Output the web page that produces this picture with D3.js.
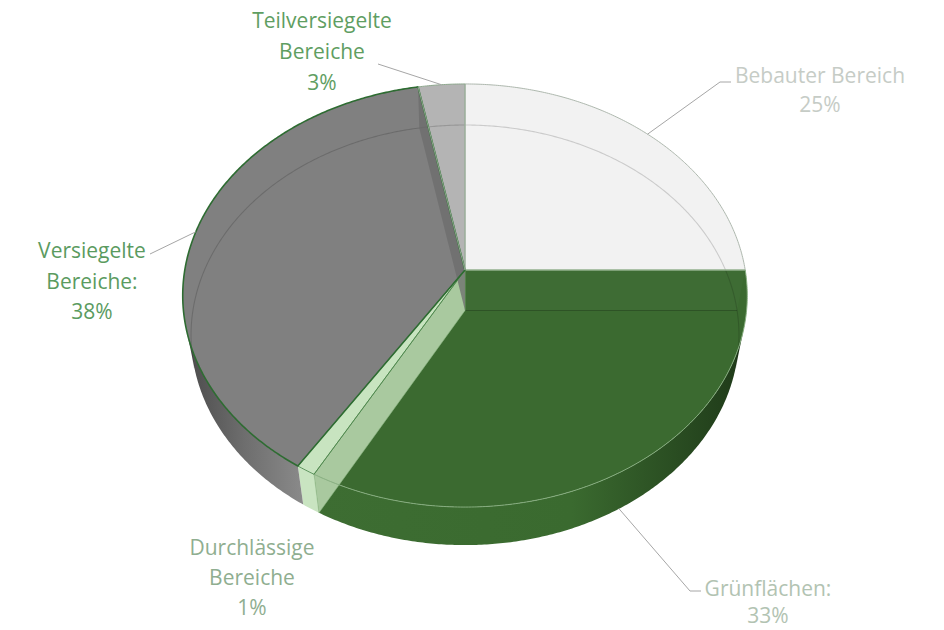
<!DOCTYPE html>
<html><head><meta charset="utf-8">
<script src="https://cdn.jsdelivr.net/npm/d3@7"></script>
<style>html,body{margin:0;padding:0;background:#fff;} svg{display:block;}</style>
</head><body>
<svg id="chart" width="944" height="630"></svg>
<script>
// ---- data ----
const categories = ["Bebauter Bereich", "Grünflächen", "Durchlässige Bereiche", "Versiegelte Bereiche", "Teilversiegelte Bereiche"];
const values = [25, 33, 1, 38, 3];
const labelLines = [["Bebauter Bereich"], ["Grünflächen:"], ["Durchlässige", "Bereiche"], ["Versiegelte", "Bereiche:"], ["Teilversiegelte", "Bereiche"]];

// ---- styles ----
const topColors = ["#f2f2f2", "#3b6a30", "#c8e4c0", "#808080", "#b4b4b4"];
const topStroke = ["#aeb8ae", "#86ad7f", "#3f7d40", "#2e6c32", "#8ea88e"];
const topStrokeW = [1, 1, 0.8, 1.6, 1];
const sideStops = [
  [["#e0e0e0", 0], ["#e0e0e0", 1]],
  [["#3d6d32", 0], ["#3a6a2f", 0.6], ["#1f3a19", 1]],
  [["#c9e4c1", 0], ["#c9e4c1", 1]],
  [["#4b4b4b", 0], ["#6e6e6e", 0.5], ["#8a8a8a", 1]],
  [["#a0a0a0", 0], ["#a0a0a0", 1]]
];
const labelColors = ["#c6ccc6", "#b2c3b2", "#8fae90", "#5b9b5f", "#5f9e62"];
const labelLayout = [
  {x: 820, y: 75, dy: 29, leader: [[720, 82], [731, 82]]},
  {x: 768, y: 588, dy: 27, leader: [[690, 591], [701, 591]]},
  {x: 252, y: 547, dy: 30, leader: null},
  {x: 92, y: 250, dy: 30.5, leader: [[150, 254]]},
  {x: 322, y: 20, dy: 31, leader: [[378, 64]]}
];

// ---- projection (perspective 3D) ----
const cam = {s: 0.744, c: 0.668, D: 5.54, F: 1552, cx: 465, cy: 270, h: 0.2226};
function proj(theta, r, y) {
  const x = r * Math.sin(theta), z = -r * Math.cos(theta);
  const vx = x, vy = y - cam.D * cam.s, vz = z - cam.D * cam.c;
  const depth = -vy * cam.s - vz * cam.c;
  const sy = vy * cam.c - vz * cam.s;
  return [cam.cx + cam.F * vx / depth, cam.cy - cam.F * sy / depth];
}
function arcPts(a0, a1, r, y) {
  const n = Math.max(2, Math.ceil(Math.abs(a1 - a0) / (Math.PI / 360)));
  const pts = [];
  for (let i = 0; i <= n; i++) pts.push(proj(a0 + (a1 - a0) * i / n, r, y));
  return pts;
}
const closed = d3.line().curve(d3.curveLinearClosed);
const open = d3.line();

const svg = d3.select("#chart");
const defs = svg.append("defs");
const arcs = d3.pie().sort(null).value(d => d)(values);
const H = -cam.h;
const visLim = Math.acos(-1 / (cam.D * cam.c));
const visA = visLim, visB = 2 * Math.PI - visLim;

// sides
const gSide = svg.append("g");
arcs.forEach((a, i) => {
  const b0 = Math.max(a.startAngle, visA), b1 = Math.min(a.endAngle, visB);
  if (b1 <= b0) return;
  const top = arcPts(b0, b1, 1, 0), bot = arcPts(b1, b0, 1, H);
  const xs = top.concat(bot).map(p => p[0]);
  const gid = "side" + i;
  const lg = defs.append("linearGradient").attr("id", gid).attr("gradientUnits", "userSpaceOnUse")
    .attr("x1", d3.min(xs)).attr("x2", d3.max(xs)).attr("y1", 0).attr("y2", 0);
  sideStops[i].forEach(s => lg.append("stop").attr("offset", s[1]).attr("stop-color", s[0]));
  gSide.append("path").attr("d", closed(top.concat(bot))).attr("fill", `url(#${gid})`);
});

// tops
const gTop = svg.append("g");
function topPts(a) { return [proj(0, 0, 0)].concat(arcPts(a.startAngle, a.endAngle, 1, 0)); }
arcs.forEach((a, i) => {
  gTop.append("path").attr("d", closed(topPts(a))).attr("fill", topColors[i]);
});

// see-through details (translucent look)
const gSee = svg.append("g");
gSee.append("path").attr("d", open(arcPts(visB, 2 * Math.PI + visA, 1, H)))
  .attr("fill", "none").attr("stroke", "rgba(0,0,0,0.16)").attr("stroke-width", 1.1);
function wallPts(t) { return [proj(t, 0, 0), proj(t, 1, 0), proj(t, 1, H), proj(t, 0, H)]; }
gSee.append("path").attr("d", closed(wallPts(arcs[0].endAngle))).attr("fill", "rgba(255,255,255,0.02)");
gSee.append("path").attr("d", open([proj(arcs[0].endAngle, 0, H), proj(arcs[0].endAngle, 1, H)]))
  .attr("stroke", "rgba(0,0,0,0.22)").attr("stroke-width", 1.1);
gSee.append("path").attr("d", closed(wallPts(arcs[2].startAngle))).attr("fill", "#a9c99f")
  .attr("stroke", "#8fb886").attr("stroke-width", 0.6);
gSee.append("path").attr("d", closed(wallPts(arcs[4].startAngle))).attr("fill", "#6c6c6c").attr("fill-opacity", 0.75);

// top outlines
arcs.forEach((a, i) => {
  svg.append("path").attr("d", closed(topPts(a))).attr("fill", "none")
    .attr("stroke", topStroke[i]).attr("stroke-width", topStrokeW[i]).attr("stroke-linejoin", "round");
});

// labels + leaders
const gLab = svg.append("g").attr("font-family", "'Open Sans', 'Noto Sans', sans-serif").attr("font-size", 21);
arcs.forEach((a, i) => {
  const L = labelLayout[i];
  const mid = (a.startAngle + a.endAngle) / 2;
  if (L.leader) {
    const anchor = Math.cos(mid) < 0 ? proj(mid, 1, H) : proj(mid, 1, 0);
    gLab.append("path").attr("d", open([anchor].concat(L.leader)))
      .attr("fill", "none").attr("stroke", "#a6a6a6").attr("stroke-width", 1);
  }
  const lines = labelLines[i].concat([values[i] + "%"]);
  lines.forEach((t, k) => {
    gLab.append("text").attr("x", L.x).attr("y", L.y + k * L.dy)
      .attr("text-anchor", "middle").attr("dominant-baseline", "central")
      .attr("fill", labelColors[i]).text(t);
  });
});
</script>
</body></html>
